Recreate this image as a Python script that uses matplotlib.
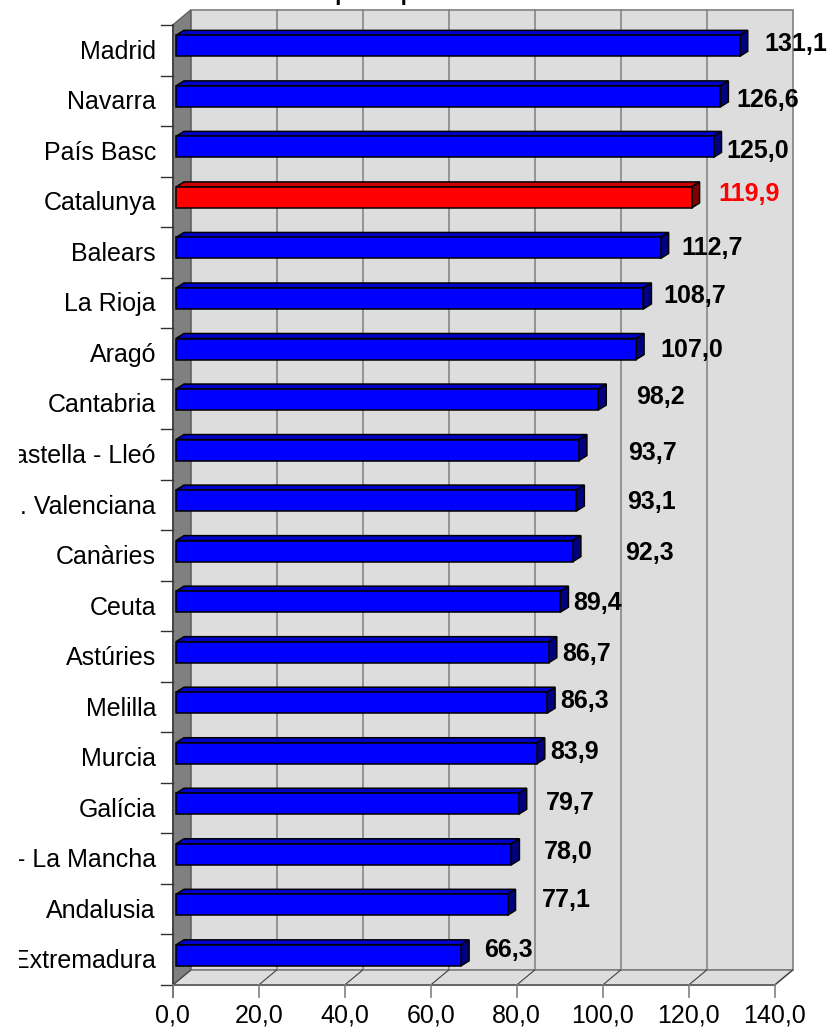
import matplotlib.pyplot as plt
from matplotlib.patches import Polygon
from matplotlib.transforms import Bbox, TransformedBbox

# --- data ---
regions = ['Madrid', 'Navarra', 'País Basc', 'Catalunya', 'Balears', 'La Rioja', 'Aragó',
           'Cantabria', 'Castella - Lleó', 'C. Valenciana', 'Canàries', 'Ceuta', 'Astúries',
           'Melilla', 'Murcia', 'Galícia', 'Castella - La Mancha', 'Andalusia', 'Extremadura']
values = [131.1, 126.6, 125.0, 119.9, 112.7, 108.7, 107.0, 98.2, 93.7, 93.1,
          92.3, 89.4, 86.7, 86.3, 83.9, 79.7, 78.0, 77.1, 66.3]
highlight = 'Catalunya'
xticks = [0, 20, 40, 60, 80, 100, 120, 140]
title = 'PIB per càpita'

# Excel puts the value labels a bit irregularly: nudges (value units / pixels)
lbl_dx = [6.6, 4.4, 3.7, 6.9, 5.7, 5.3, 6.3, 9.5, 12.2, 12.6, 12.9, 3.7, 3.8, 3.8, 3.8, 7.1, 8.3, 8.8, 6.1]
lbl_dy = [-8, -3, -2.5, -9.5, -6, -9, -5, -9, -3, -5, -5, -5, -5, -8, -8, -7, -9, -11, -12]

plt.rcParams['font.family'] = ['Liberation Sans', 'DejaVu Sans']

W, H = 828, 1029
fig = plt.figure(figsize=(W / 100, H / 100), dpi=100)
ax = fig.add_axes([0, 0, 1, 1])
ax.axis('off')

# front plane geometry in pixels
ppu = 4.3          # pixels per value unit
x0 = 172.7         # pixel of value 0
top, bot = 25.0, 985.0
n = len(regions)
ppc = (bot - top) / n
ax.set_xlim(-x0 / ppu, (W - x0) / ppu)
ax.set_ylim((H - top) / ppc - 0.5, -top / ppc - 0.5)

def ux(px):
    return px / ppu

def uy(px):
    return px / ppc

DX, DY = ux(18), uy(-15)       # wall depth
xmax = xticks[-1]
ylo, yhi = -0.5, n - 0.5

# back wall
ax.add_patch(Polygon([(DX, ylo + DY), (xmax + DX, ylo + DY), (xmax + DX, yhi + DY), (DX, yhi + DY)],
                     closed=True, fc='#DDDDDD', ec='#808080', lw=1.2, zorder=1))
for t in xticks[1:-1]:
    ax.plot([t + DX, t + DX], [ylo + DY, yhi + DY], color='#808080', lw=1.1, zorder=2)

# side wall
ax.add_patch(Polygon([(0, ylo), (DX, ylo + DY), (DX, yhi + DY), (0, yhi)],
                     closed=True, fc='#808080', ec='#606060', lw=1.0, zorder=2))
# floor
ax.add_patch(Polygon([(0, yhi), (xmax, yhi), (xmax + DX, yhi + DY), (DX, yhi + DY)],
                     closed=True, fc='#DDDDDD', ec='#808080', lw=1.2, zorder=2))
for t in xticks:
    ax.plot([t, t + DX], [yhi, yhi + DY], color='#404040', lw=0.8, zorder=3)

# axes lines and ticks
ax.plot([0, 0], [ylo, yhi + uy(12)], color='#404040', lw=1.2, zorder=4)
ax.plot([0, xmax], [yhi, yhi], color='#606060', lw=1.2, zorder=4)
for k in range(n + 1):
    ax.plot([0, -ux(12)], [k - 0.5, k - 0.5], color='#333333', lw=1.0, zorder=4)
for t in xticks:
    ax.plot([t, t], [yhi, yhi + uy(12)], color='#808080', lw=1.2, zorder=4)
    ax.text(t, yhi + uy(38), f'{t:.1f}'.replace('.', ','), ha='center', va='baseline',
            fontsize=18, color='black')

# bars
bx, bh, by = ux(3.3), uy(21), uy(-4.4)
bdx, bdy = ux(8), uy(-5)
# the category labels are cut at the left edge of the chart area
clip = TransformedBbox(Bbox.from_extents(18.5 / 100, 0, W / 100, H / 100), fig.dpi_scale_trans)
for i, (name, v) in enumerate(zip(regions, values)):
    if name == highlight:
        cf, ct, cs, tc = '#FF0000', '#CC0000', '#800000', '#FF0000'
    else:
        cf, ct, cs, tc = '#0000FF', '#0000CC', '#000080', 'black'
    y0 = i + by - bh / 2
    y1 = i + by + bh / 2
    ax.add_patch(Polygon([(bx, y0), (bx + v, y0), (bx + v + bdx, y0 + bdy), (bx + bdx, y0 + bdy)],
                         closed=True, fc=ct, ec='black', lw=1.1, zorder=5))
    ax.add_patch(Polygon([(bx + v, y0), (bx + v + bdx, y0 + bdy), (bx + v + bdx, y1 + bdy), (bx + v, y1)],
                         closed=True, fc=cs, ec='black', lw=1.1, zorder=5))
    ax.add_patch(Polygon([(bx, y0), (bx + v, y0), (bx + v, y1), (bx, y1)],
                         closed=True, fc=cf, ec='black', lw=1.1, zorder=6))
    ax.text(v + lbl_dx[i], i + uy(lbl_dy[i] + 9), f'{v:.1f}'.replace('.', ','),
            ha='left', va='baseline', fontsize=18, fontweight='bold', color=tc, zorder=7)
    t = ax.text(-ux(16.7), i + uy(8.5), name, ha='right', va='baseline', fontsize=18,
                color='black', zorder=7)
    t.set_clip_box(clip)
    t.set_clip_on(True)

# title sits above the visible area, only its descenders show
fig.text(292 / W, 1.0, title, ha='left', va='baseline', fontsize=16, fontweight='bold')

fig.savefig('out.png', dpi=100)
